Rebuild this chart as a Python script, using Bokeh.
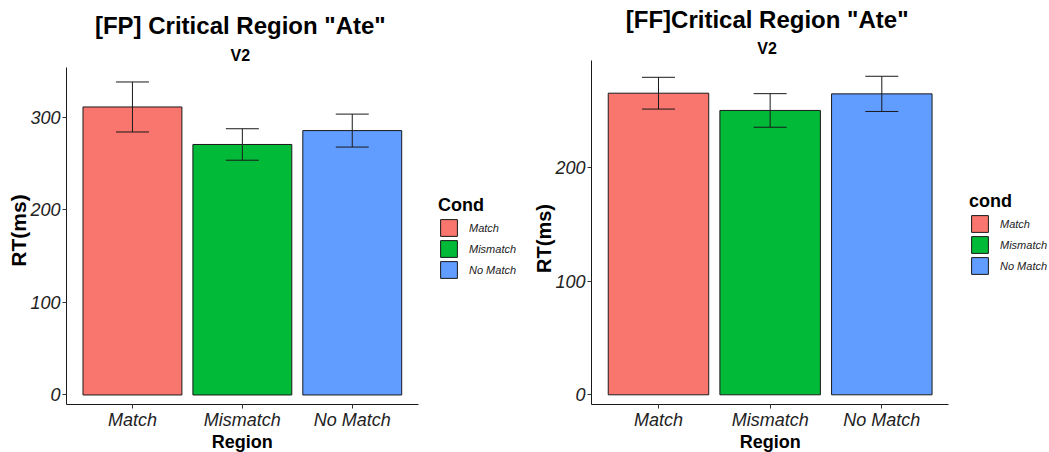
import math
from bokeh.plotting import figure
from bokeh.models import (Range1d, FixedTicker, Label, Legend,
                          LegendItem, Whisker, TeeHead, ColumnDataSource)
from bokeh.layouts import row
from bokeh.embed import file_html
from bokeh.resources import INLINE

# ---- data ----
categories = ["Match", "Mismatch", "No Match"]
colors = ["#F8766D", "#00BA38", "#619CFF"]

fp_rt = [311.0, 270.5, 285.5]
fp_se = [27.0, 17.0, 17.8]
fp_ticks = [0, 100, 200, 300]

ff_rt = [265.7, 250.5, 265.1]
ff_se = [14.0, 14.8, 15.5]
ff_ticks = [0, 100, 200]

FONT = "Liberation Sans"
TXT = "#222222"
XPOS = [i + 1 for i in range(len(categories))]
XLO, XHI = 0.4, len(categories) + 0.6
H = 452


def panel(title, subtitle, leg_title, rt, se, ticks,
          ylo, yhi,            # value range covered by the y axis line
          W, ax_l, ax_r, ax_t, ax_b,  # figure width, axis box in figure pixels
          leg_xy, t_y, s_y, lab_y, t_dx, ylab_y, ylab_size):
    src = ColumnDataSource(dict(
        x=XPOS, cat=categories, rt=rt, color=colors,
        lo=[m - s for m, s in zip(rt, se)],
        hi=[m + s for m, s in zip(rt, se)],
    ))
    xu = (ax_r - ax_l) / (XHI - XLO)
    yu = (ax_b - ax_t) / (yhi - ylo)
    x0 = XLO - ax_l / xu
    y0 = ylo - (H - ax_b) / yu
    p = figure(x_range=Range1d(x0, x0 + W / xu),
               y_range=Range1d(y0, y0 + H / yu),
               width=W, height=H,
               min_border_left=0, min_border_right=0,
               min_border_top=0, min_border_bottom=0,
               output_backend="svg", toolbar_location=None, title=None)
    p.outline_line_color = None
    p.background_fill_color = "white"
    p.border_fill_color = "white"
    p.xgrid.visible = False
    p.ygrid.visible = False

    bars = p.vbar(x="x", top="rt", bottom=0, width=0.9, source=src,
                  fill_color="color", line_color="#1a1a1a", line_width=1)
    wh = Whisker(base="x", lower="lo", upper="hi", source=src, level="overlay",
                 line_color="#1a1a1a", line_width=1,
                 upper_head=TeeHead(size=33, line_color="#1a1a1a", line_width=1),
                 lower_head=TeeHead(size=33, line_color="#1a1a1a", line_width=1))
    p.add_layout(wh)

    for ax in (p.xaxis[0], p.yaxis[0]):
        ax.axis_line_color = "#1a1a1a"
        ax.axis_line_width = 1
        ax.major_tick_line_color = "#333333"
        ax.major_tick_in = 0
        ax.major_tick_out = 4
        ax.minor_tick_line_color = None
        ax.major_label_text_font = FONT
        ax.major_label_text_font_style = "italic"
        ax.major_label_text_font_size = "18px"
        ax.major_label_text_color = TXT
    p.xaxis.fixed_location = ylo
    p.xaxis.bounds = (XLO, XHI)
    p.xaxis.ticker = FixedTicker(ticks=XPOS)
    p.xaxis.major_label_overrides = {x: c for x, c in zip(XPOS, categories)}
    p.xaxis.major_label_standoff = 1
    p.yaxis.fixed_location = XLO
    p.yaxis.bounds = (ylo, yhi)
    p.yaxis.ticker = FixedTicker(ticks=ticks)
    p.yaxis.major_label_standoff = 2

    xc = (XLO + XHI) / 2
    common = dict(text_font=FONT, text_font_style="bold", text_color="black")
    p.add_layout(Label(x=xc, y=t_y, y_units="screen", x_offset=t_dx, text=title,
                       text_align="center", text_baseline="alphabetic",
                       text_font_size="24px", **common))
    p.add_layout(Label(x=xc, y=s_y, y_units="screen", x_offset=t_dx, text=subtitle,
                       text_align="center", text_baseline="alphabetic",
                       text_font_size="16px", **common))
    p.add_layout(Label(x=xc, y=lab_y, y_units="screen", text="Region",
                       text_align="center", text_baseline="alphabetic",
                       text_font_size="18px", **common))
    p.add_layout(Label(x=ax_l - 48, y=ylab_y,
                       x_units="screen", y_units="screen", text="RT(ms)",
                       angle=math.pi / 2, text_align="center",
                       text_baseline="middle", text_font_size=ylab_size,
                       **common))

    leg = Legend(items=[LegendItem(label=dict(field="cat"), renderers=[bars])],
                 location=leg_xy, title=leg_title,
                 title_text_font=FONT, title_text_font_size="18px",
                 title_text_font_style="bold", title_text_color="black",
                 title_standoff=1,
                 label_text_font=FONT, label_text_font_size="11px",
                 label_text_font_style="italic", label_text_color=TXT,
                 glyph_width=21, glyph_height=21, label_standoff=10,
                 spacing=0, padding=0, margin=0,
                 border_line_color=None, background_fill_alpha=0)
    p.add_layout(leg)
    return p


left = panel('[FP] Critical Region "Ate"', "V2", "Cond", fp_rt, fp_se, fp_ticks,
             -10.6, 353.3, 525, 66, 417.7, 67.3, 404.3,
             (438, 172), 427, 397, 11, -2, 222, "21px")
right = panel('[FF]Critical Region "Ate"', "V2", "cond", ff_rt, ff_se, ff_ticks,
              -8.8, 294.5, 524, 66, 423.3, 60, 404.3,
              (444, 176), 433, 404, 11, -3, 214, "20px")

layout = row(left, right)
open("out.html", "w").write(file_html(layout, INLINE))
